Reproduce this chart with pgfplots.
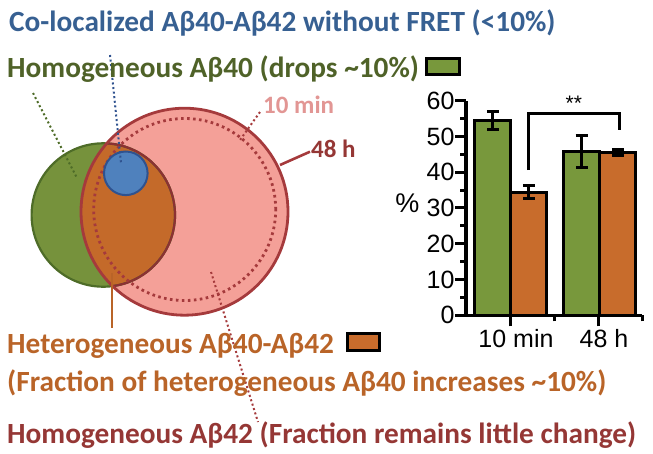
\documentclass[border=0pt]{standalone}
\usepackage{pgfplots}
\pgfplotsset{compat=1.18}
\usepackage{fontspec}
\setmainfont{Carlito}
\newfontfamily\arialf{Liberation Sans}
\definecolor{tBlue}{RGB}{55,96,146}
\definecolor{tGreen}{RGB}{79,98,40}
\definecolor{tOrange}{RGB}{185,100,40}
\definecolor{tRed}{RGB}{149,55,53}
\definecolor{tPink}{RGB}{226,150,148}
\definecolor{cGreen}{RGB}{118,146,60}
\definecolor{cGreenB}{RGB}{78,108,40}
\definecolor{cPink}{RGB}{244,160,152}
\definecolor{cRedB}{RGB}{165,58,60}
\definecolor{cOrange}{RGB}{196,106,42}
\definecolor{cBlue}{RGB}{79,129,189}
\definecolor{cBlueB}{RGB}{47,82,143}
\definecolor{bGreen}{RGB}{120,152,60}
\definecolor{bOrange}{RGB}{200,108,44}
\begin{document}
\begin{tikzpicture}
\begin{axis}[name=bg, width=653pt, height=453pt, scale only axis,
  xmin=0, xmax=653, ymin=0, ymax=453, y dir=reverse, hide axis, clip=false]
\path (axis cs:0,0) rectangle (axis cs:653,453);
% circles
\fill[cGreen] (axis cs:103.3,215) circle[radius=71.7pt];
\fill[cPink] (axis cs:184.5,211.7) circle[radius=103.5pt];
\begin{scope}
\clip (axis cs:103.3,215) circle[radius=71.7pt];
\fill[cOrange] (axis cs:184.5,211.7) circle[radius=103.5pt];
\end{scope}
\draw[cGreenB, line width=2.2pt] (axis cs:103.3,215) circle[radius=71.7pt];
\begin{scope}
\clip (axis cs:184.5,211.7) circle[radius=103.5pt];
\draw[cRedB!85!black, line width=2.2pt] (axis cs:103.3,215) circle[radius=71.7pt];
\end{scope}
\draw[cRedB, line width=2.8pt] (axis cs:184.5,211.7) circle[radius=103.5pt];
\draw[cRedB, line width=2.8pt, dash pattern=on 2.6pt off 3.4pt] (axis cs:184.7,209.5) circle[radius=91pt];
\filldraw[fill=cBlue, draw=cBlueB, line width=2pt] (axis cs:125.8,173.3) circle[radius=21.8pt];
% leader lines
\draw[cGreenB, line width=2pt, dash pattern=on 2pt off 2.6pt] (axis cs:33,93) -- (axis cs:77,178);
\draw[cBlueB, line width=2pt, dash pattern=on 2pt off 2.6pt] (axis cs:110,55) -- (axis cs:121,163);
\draw[cRedB, line width=2pt, dash pattern=on 2pt off 2.6pt] (axis cs:260,112) -- (axis cs:240,140);
\draw[cRedB, line width=2pt, dash pattern=on 2pt off 2.6pt] (axis cs:211,272) -- (axis cs:258,422);
\draw[cRedB, line width=2.6pt] (axis cs:310,151.7) -- (axis cs:280,165);
\draw[tOrange, line width=2.4pt] (axis cs:111.7,273) -- (axis cs:111.7,328);
% legend keys
\filldraw[fill=bGreen, draw=black, line width=3pt] (axis cs:426,58) rectangle (axis cs:459,74);
\filldraw[fill=bOrange, draw=black, line width=3pt] (axis cs:347,333) rectangle (axis cs:379,350);
% texts
\node[anchor=base west, inner sep=0pt, text=tBlue, font=\bfseries\fontsize{29.3}{29.3}\selectfont] at (axis cs:9,31) {Co-localized Aβ40-Aβ42 without FRET (<10\%)};
\node[anchor=base west, inner sep=0pt, text=tGreen, font=\bfseries\fontsize{29.3}{29.3}\selectfont] at (axis cs:7,77) {Homogeneous Aβ40 (drops \textasciitilde10\%)};
\node[anchor=base west, inner sep=0pt, text=tPink, font=\bfseries\fontsize{25}{25}\selectfont] at (axis cs:263,113) {10 min};
\node[anchor=base west, inner sep=0pt, text=tRed, font=\bfseries\fontsize{25}{25}\selectfont] at (axis cs:311,157) {48 h};
\node[anchor=base west, inner sep=0pt, text=tOrange, font=\bfseries\fontsize{29.3}{29.3}\selectfont] at (axis cs:7,353) {Heterogeneous Aβ40-Aβ42};
\node[anchor=base west, inner sep=0pt, text=tOrange, font=\bfseries\fontsize{29.3}{29.3}\selectfont] at (axis cs:7,391) {(Fraction of heterogeneous Aβ40 increases \textasciitilde10\%)};
\node[anchor=base west, inner sep=0pt, text=tRed, font=\bfseries\fontsize{29.3}{29.3}\selectfont] at (axis cs:7,443) {Homogeneous Aβ42 (Fraction remains little change)};
\coordinate (bo) at (axis cs:466,315.3);
\end{axis}
\begin{axis}[at={(bo)}, anchor=south west, width=176pt, height=214.6pt, scale only axis,
  xmin=0, xmax=4, ymin=0, ymax=60, clip=false,
  axis x line*=bottom, axis y line*=left,
  axis line style={line width=3.2pt, black},
  ytick={0,10,...,60}, minor ytick={5,15,...,55},
  xtick={1,3}, xticklabels={10 min,48 h}, minor xtick={2,4},
  tick align=outside, major tick length=11pt, minor tick length=6pt,
  major tick style={line width=3pt, black},
  minor tick style={line width=3pt, black},
  tick label style={font=\arialf\fontsize{25}{25}\selectfont},
  yticklabel style={xshift=3pt},
  /pgf/number format/assume math mode=true,
  xticklabel style={xshift=6pt},
]
\addplot[ybar, bar width=0.82, bar shift=0pt, fill=bGreen, draw=black, line width=3pt,
  error bars/.cd, y dir=both, y explicit,
  error bar style={line width=3pt, black},
  error mark options={rotate=90, mark size=6pt, line width=3pt, black}]
  coordinates {(0.61,54.5) +- (0,2.6) (2.63,45.8) +- (0,4.4)};
\addplot[ybar, bar width=0.82, bar shift=0pt, fill=bOrange, draw=black, line width=3pt,
  error bars/.cd, y dir=both, y explicit,
  error bar style={line width=3pt, black},
  error mark options={rotate=90, mark size=6pt, line width=3pt, black}]
  coordinates {(1.43,34.4) +- (0,1.8) (3.45,45.6) +- (0,0.8)};
\addplot[black, line width=3pt, line join=miter] coordinates {(1.43,40.6) (1.43,56.5) (3.49,56.5) (3.49,51.8)};
\node[anchor=base, font=\arialf\fontsize{21}{21}\selectfont] at (axis cs:2.45,57.2) {**};
\node[font=\arialf\fontsize{27}{27}\selectfont] at (axis cs:-1.33,31.3) {\%};
\end{axis}
\end{tikzpicture}
\end{document}
